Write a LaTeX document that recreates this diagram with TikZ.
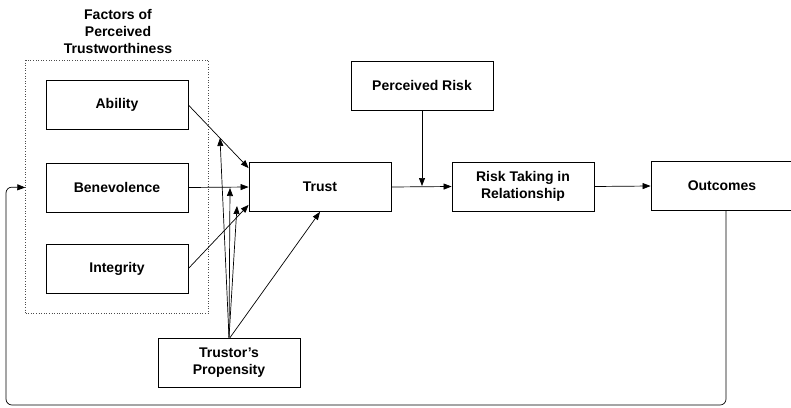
\documentclass[tikz,border=0pt]{standalone}
\usepackage{fontspec}
\setmainfont{Liberation Sans}
\usepackage{tikz}
\usetikzlibrary{fit, arrows.meta, positioning}
\tikzstyle{factor} = [rectangle, draw=black, line width=0.8pt, minimum width=142pt, minimum height=49pt,
                      align=center, inner sep=0pt]
\tikzstyle{link} = [line width=0.7pt, -{Triangle[length=8pt, width=6pt]}]

\begin{document}
\begin{tikzpicture}[x=1pt, y=-1pt, font=\fontsize{14}{17}\selectfont\bfseries]
				\useasboundingbox (0, 0) rectangle (791, 407);

				\node (Title) [align=center] at (118, 31) {Factors of\\Perceived\\Trustworthiness};

				\node (Ability) [factor] at (117, 105) {Ability};
				\node (Benevolence) [factor] at (117, 187.5) {Benevolence};
				\node (Integrity) [factor] at (117, 268.5) {Integrity};
				\node (Frame) [draw=black!70, dotted, line width=0.6pt, inner sep=20pt, fit=(Ability)(Integrity)] {};

				\node (Trust) [factor] at (320, 187) {Trust};
				\node (PRisk) [factor] at (422, 85.5) {Perceived Risk};
				\node (RiskTaking) [factor] at (523, 186.5) {Risk Taking in\\Relationship};
				\node (Outcomes) [factor] at (722, 186) {Outcomes};
				\node (Propensity) [factor] at (229, 362.5) {Trustor's\\Propensity};

				\draw [link] (Ability.east) -- ([yshift=-6pt]Trust.north west);
				\draw [link] (Benevolence.east) -- (Trust.west);
				\draw [link] (Integrity.east) -- ([yshift=7pt]Trust.south west);

				\coordinate (OnAbility) at (220, 138);
				\coordinate (OnBenevolence) at (230, 188);
				\coordinate (OnIntegrity) at (237, 206);
				\draw [link] (Propensity.north) -- (OnAbility);
				\draw [link] (Propensity.north) -- (OnBenevolence);
				\draw [link] (Propensity.north) -- (OnIntegrity);
				\draw [link] ([xshift=1pt]Propensity.north) -- (Trust.south);

				\draw [link] (Trust.east) -- (RiskTaking.west);
				\coordinate (RiskJoin) at (PRisk.south |- Trust.east);
				\draw [link] (PRisk.south) -- ([yshift=1pt]RiskJoin);
				\draw [link] (RiskTaking.east) -- (Outcomes.west);

				% feedback from outcomes to the factors
				\coordinate (LoopOut) at ([xshift=4pt]Outcomes.south);
				\coordinate (LoopIn) at (Frame.west |- Benevolence.west);
				\draw [link, rounded corners=6pt] (LoopOut) -- (LoopOut |- 0, 405) -- (6, 405) -- (6, 187) -- (LoopIn);
			\end{tikzpicture}
\end{document}
